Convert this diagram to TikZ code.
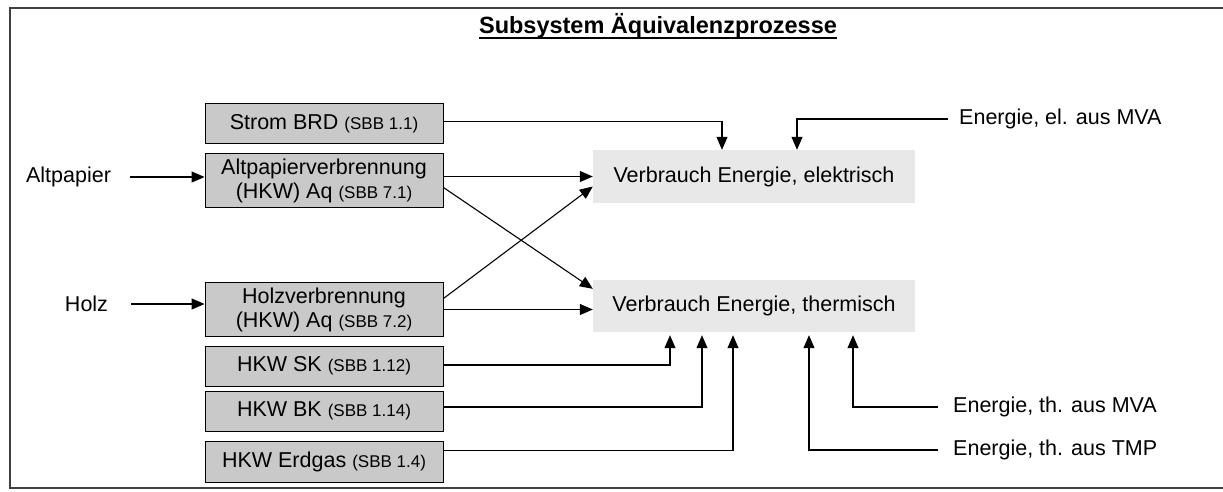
\documentclass[tikz,border=0pt]{standalone}
\usepackage{fontspec}
\setmainfont{Liberation Sans}
\usepackage{xcolor}
\usepackage{tikz}
\usetikzlibrary{arrows.meta, positioning, calc}

\newcommand{\sbb}[1]{{\fontsize{17}{20}\selectfont(SBB #1)}}

\begin{document}
\begin{tikzpicture}[x=1pt, y=-1pt,
    font=\fontsize{21.5}{24}\selectfont,
    procbox/.style={draw=black, line width=0.9pt, fill=gray!42, minimum width=238pt,
      minimum height=40pt, inner sep=1pt, align=center},
    tallbox/.style={procbox, minimum height=54pt},
    usebox/.style={fill=gray!18, draw=none, minimum width=322pt, minimum height=53pt, inner sep=0pt},
    lbl/.style={inner ysep=0pt},
    arr/.style={-{Triangle[length=13pt,width=11pt]}, line width=1.1pt}]
  \useasboundingbox (0,0) rectangle (1223,491);

  % Frame (open on the right)
  \draw[line width=1.4pt, black!75] (1223,8) -- (10,8) -- (10,488) -- (1223,488);

  % Title
  \node[font=\fontsize{23.5}{26}\selectfont\bfseries, anchor=base, inner sep=0pt] (title) at (658,33)
    {Subsystem Äquivalenzprozesse};
  \draw[line width=1.8pt] ([yshift=-5pt]title.base west) -- ([yshift=-5pt]title.base east);

  % Process boxes
  \node[procbox] (strom)  at (324,123.5) {Strom BRD \sbb{1.1}};
  \node[tallbox] (altp)   at (324,180.5) {Altpapierverbrennung\\(HKW) Aq \sbb{7.1}};
  \node[tallbox] (holzv)  at (324,309.5) {Holzverbrennung\\(HKW) Aq \sbb{7.2}};
  \node[procbox] (sk)     at (324,366)   {HKW SK \sbb{1.12}};
  \node[procbox] (bk)     at (324,411)   {HKW BK \sbb{1.14}};
  \node[procbox, minimum height=41pt] (erdgas) at (324,461.5) {HKW Erdgas \sbb{1.4}};

  % Consumption areas
  \node[usebox] (elek)  at (754,176.5) {Verbrauch Energie, elektrisch};
  \node[usebox, minimum height=52pt] (therm) at (754,306) {Verbrauch Energie, thermisch};

  % Inputs on the left
  \node[lbl, inner xsep=19pt] (altpapier) at (68.5,177) {Altpapier};
  \node[lbl, inner xsep=23pt] (holz)      at (86.5,304) {Holz};
  \draw[arr] (altpapier.east) -- (altpapier.east -| altp.west);
  \draw[arr] (holz.east) -- (holz.east -| holzv.west);

  % Outside sources on the right
  \node[lbl, anchor=west, inner xsep=11pt] (elmva)  at (948,119) {Energie, el. aus MVA};
  \node[lbl, anchor=west, inner xsep=15pt] (thmva)  at (938,407) {Energie, th. aus MVA};
  \node[lbl, anchor=west, inner xsep=15pt] (thtmp)  at (938,450) {Energie, th. aus TMP};

  % Electric consumption
  \draw[arr] ([yshift=2pt]strom.east) -| ([xshift=-32pt]elek.north);
  \draw[arr] (elmva.west) -| ([xshift=43pt]elek.north);
  \draw[arr] (altp.east |- elek.west) -- (elek.west);
  \draw[arr] ([yshift=11pt]holzv.east) -- ([yshift=-10pt]elek.west);

  % Thermal consumption
  \draw[arr] ([yshift=-7pt]altp.east) -- ([yshift=-9pt]therm.north west);
  \draw[arr] (holzv.east) -- (holzv.east -| therm.west);
  \foreach \n/\dx/\dy in {sk/-84/1, bk/-52/4, erdgas/-21/11} {
    \draw[arr] ([yshift=\dy pt]\n.east) -| ([xshift=\dx pt, yshift=-3pt]therm.south);
  }
  \draw[arr] (thtmp.west) -| ([xshift=55pt, yshift=-3pt]therm.south);
  \draw[arr] (thmva.west) -| ([xshift=99pt, yshift=-3pt]therm.south);
\end{tikzpicture}
\end{document}
